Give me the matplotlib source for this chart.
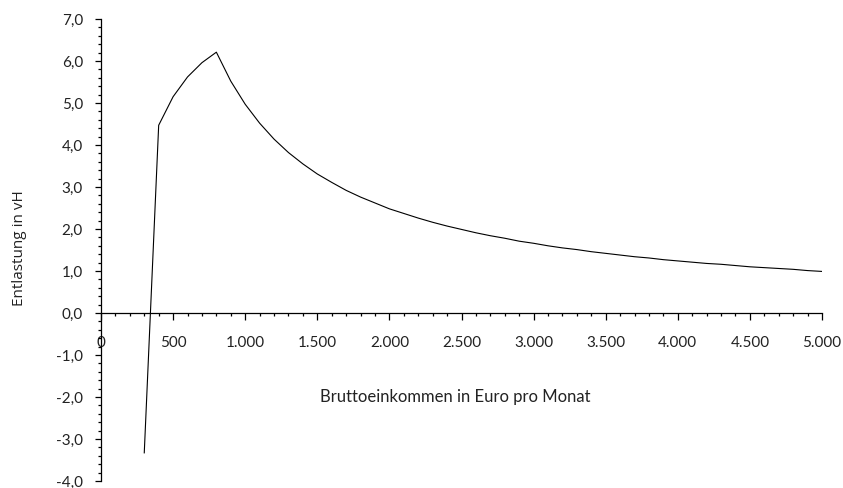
"""Entlastung in vH nach Bruttoeinkommen, nachgezeichnet mit matplotlib."""

import matplotlib
matplotlib.use("Agg")
import matplotlib.pyplot as plt
from matplotlib.ticker import FuncFormatter, MultipleLocator

# Daten
einkommen = [
    300, 400, 500, 600, 700, 800, 900, 1000, 1100, 1200, 1300, 1400, 1500,
    1600, 1700, 1800, 1900, 2000, 2100, 2200, 2300, 2400, 2500, 2600, 2700,
    2800, 2900, 3000, 3100, 3200, 3300, 3400, 3500, 3600, 3700, 3800, 3900,
    4000, 4100, 4200, 4300, 4400, 4500, 4600, 4700, 4800, 4900, 5000,
]
entlastung = [
    -3.33, 4.47, 5.15, 5.62, 5.96, 6.21, 5.52, 4.97, 4.52, 4.14, 3.82, 3.55,
    3.31, 3.11, 2.92, 2.76, 2.62, 2.48, 2.37, 2.26, 2.16, 2.07, 1.99, 1.91,
    1.84, 1.78, 1.71, 1.66, 1.60, 1.55, 1.51, 1.46, 1.42, 1.38, 1.34, 1.31,
    1.27, 1.24, 1.21, 1.18, 1.16, 1.13, 1.10, 1.08, 1.06, 1.04, 1.01, 0.99,
]

X_LABEL = "Bruttoeinkommen in Euro pro Monat"
Y_LABEL = "Entlastung in vH"

FONT = ["Lato", "DejaVu Sans"]


def main():
    fig = plt.figure(figsize=(8.43, 4.88), dpi=100)
    ax = fig.add_axes([101 / 843, 1 - 481 / 488, (822 - 101) / 843, (481 - 19) / 488])

    ax.plot(einkommen, entlastung, color="black", linewidth=0.8)

    ax.set_xlim(0, 5000)
    ax.set_ylim(-4, 7)

    ax.spines["top"].set_visible(False)
    ax.spines["right"].set_visible(False)
    ax.spines["bottom"].set_position(("data", 0))
    for sp in ("left", "bottom"):
        ax.spines[sp].set_linewidth(0.9)

    ax.xaxis.set_major_locator(MultipleLocator(500))
    ax.xaxis.set_minor_locator(MultipleLocator(100))
    ax.yaxis.set_major_locator(MultipleLocator(1))
    ax.yaxis.set_minor_locator(MultipleLocator(0.2))

    ax.xaxis.set_major_formatter(
        FuncFormatter(lambda v, p: f"{int(round(v)):,}".replace(",", "."))
    )
    ax.yaxis.set_major_formatter(
        FuncFormatter(lambda v, p: f"{v:.1f}".replace(".", ","))
    )

    ax.tick_params(axis="x", which="major", direction="out", length=5, width=0.9,
                   pad=11.5, labelsize=11)
    ax.tick_params(axis="x", which="minor", direction="out", length=2.5, width=0.9)
    ax.tick_params(axis="y", which="major", direction="out", length=4, width=0.9,
                   pad=9, labelsize=11)
    ax.tick_params(axis="y", which="minor", direction="out", length=2, width=0.9)

    for lab in ax.get_xticklabels() + ax.get_yticklabels():
        lab.set_family(FONT)
        lab.set_color("#222222")

    fig.text(455 / 843, 1 - 397 / 488, X_LABEL, ha="center", va="center",
             fontsize=12, family=FONT, color="#222222")
    fig.text(20 / 843, 1 - 248 / 488, Y_LABEL, ha="center", va="center",
             rotation=90, fontsize=11, family=["Open Sans", "DejaVu Sans"],
             color="#222222")

    fig.savefig("out.png", dpi=100)


if __name__ == "__main__":
    main()
